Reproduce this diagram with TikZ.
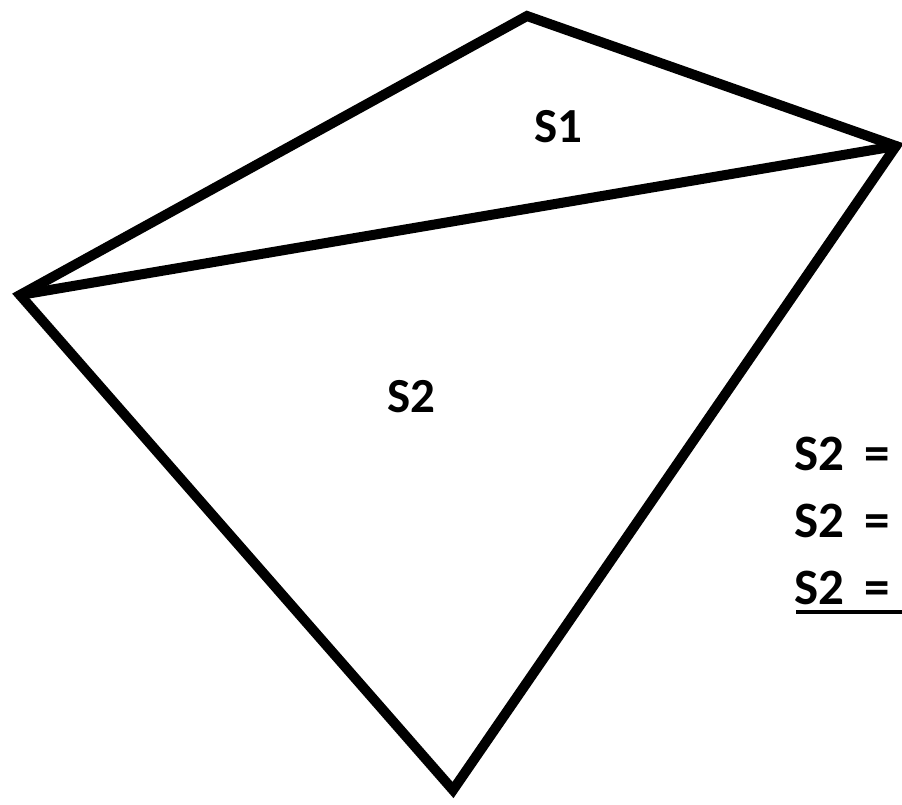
\documentclass[tikz,border=0pt]{standalone}
\usepackage{fontspec}
\setmainfont{Carlito}
\begin{document}
\begin{tikzpicture}[x=1pt,y=-1pt,
  edge/.style={line width=10pt,line join=miter,line cap=round},
  lbl/.style={font=\fontsize{49}{58}\selectfont\bfseries,inner sep=0pt},
  eqlbl/.style={font=\fontsize{51}{60}\selectfont\bfseries,inner sep=0pt,anchor=west}]
\useasboundingbox (0,0) rectangle (902,805);
\clip (0,0) rectangle (902,805);
\coordinate (T) at (527,16);
\coordinate (R) at (896,146);
\coordinate (L) at (20,295);
\coordinate (B) at (453,790);
\draw[edge] (T) -- (R) -- (B) -- (L) -- cycle;
\draw[edge] (L) -- (R);
\node[lbl] (s1) at (558,127) {S1};
\node[lbl] (s2) at (411,397) {S2};
\node[eqlbl] (e1) at (794,454) {S2\hspace{0.4em}=};
\node[eqlbl] (e2) at (794,521) {S2\hspace{0.4em}=};
\node[eqlbl] (e3) at (794,588) {S2\hspace{0.4em}=};
\coordinate (u1) at (796,612);
\coordinate (u2) at (902,612);
\draw[line width=4pt] (u1) -- (u2);
\end{tikzpicture}
\end{document}
